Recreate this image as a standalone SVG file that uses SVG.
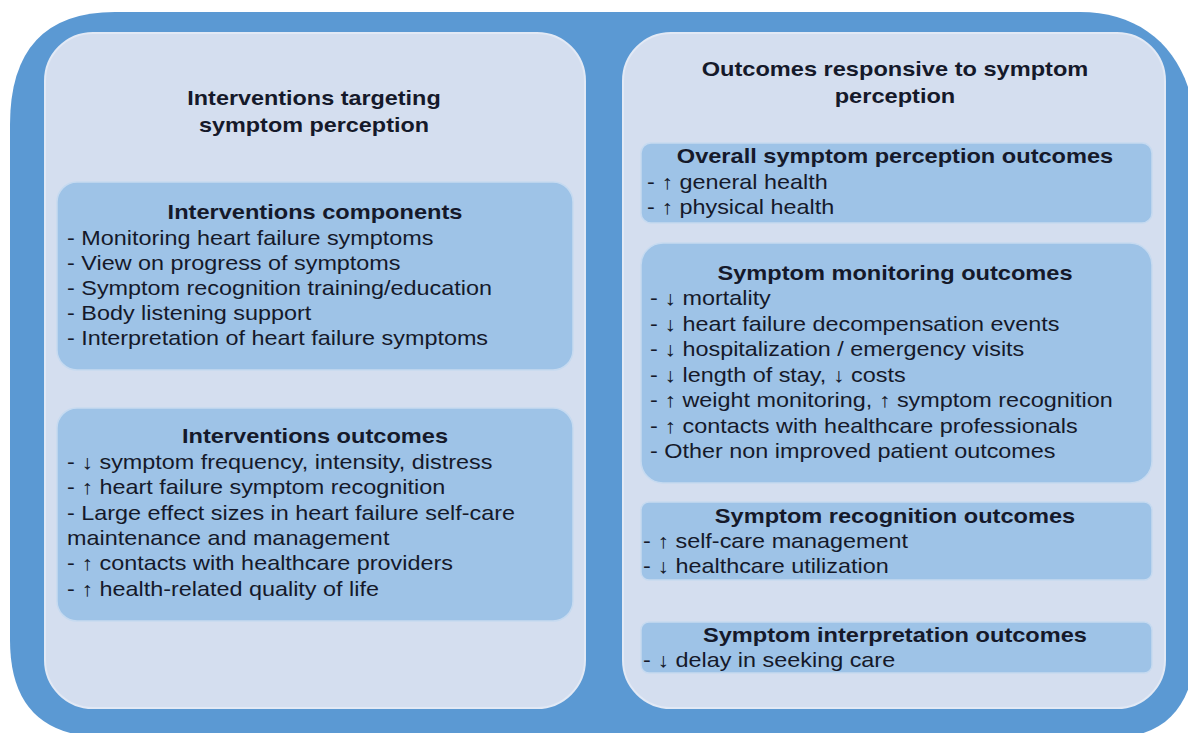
<svg xmlns="http://www.w3.org/2000/svg" width="1188" height="733" viewBox="0 0 1188 733">
<style>
.panel{fill:#d4deef;stroke:#e2e9f5;stroke-width:2}
.box{fill:#9ec3e7;stroke:#c6daf0;stroke-width:1.5}
.h{font-family:"Liberation Sans",Arial,sans-serif;font-weight:bold;font-size:20px;fill:#15192a;text-anchor:middle}
.t{font-family:"Liberation Sans",Arial,sans-serif;font-size:20px;fill:#15192a}
</style>
<rect width="1188" height="733" fill="#ffffff"/>
<path id="outer" d="M10,125 Q10,12 115,12 L1080,12 C1150,12 1196,60 1196,140 L1196,640 C1196,700 1170,737 1115,737 L105,737 Q10,737 10,640 Z" fill="#5b99d3"/>
<g id="left-panel">
<rect class="panel" x="45" y="33" width="540" height="675" rx="48"/>
<text class="h" transform="translate(314,105) scale(1.17,1)">Interventions targeting</text>
<text class="h" transform="translate(314,132) scale(1.17,1)">symptom perception</text>
</g>
<g id="interventions-components">
<rect class="box" x="57" y="182" width="516" height="188" rx="20"/>
<text class="h" transform="translate(315,219) scale(1.18,1)">Interventions components</text>
<text class="t" transform="translate(67,245) scale(1.17,1)">- Monitoring heart failure symptoms</text>
<text class="t" transform="translate(67,270) scale(1.17,1)">- View on progress of symptoms</text>
<text class="t" transform="translate(67,295) scale(1.17,1)">- Symptom recognition training/education</text>
<text class="t" transform="translate(67,320) scale(1.17,1)">- Body listening support</text>
<text class="t" transform="translate(67,345) scale(1.17,1)">- Interpretation of heart failure symptoms</text>
</g>
<g id="interventions-outcomes">
<rect class="box" x="57" y="408" width="516" height="213" rx="20"/>
<text class="h" transform="translate(315,443) scale(1.18,1)">Interventions outcomes</text>
<text class="t" transform="translate(67,469) scale(1.17,1)">- ↓ symptom frequency, intensity, distress</text>
<text class="t" transform="translate(67,494) scale(1.17,1)">- ↑ heart failure symptom recognition</text>
<text class="t" transform="translate(67,520) scale(1.17,1)">- Large effect sizes in heart failure self-care</text>
<text class="t" transform="translate(67,545) scale(1.17,1)">maintenance and management</text>
<text class="t" transform="translate(67,570) scale(1.17,1)">- ↑ contacts with healthcare providers</text>
<text class="t" transform="translate(67,596) scale(1.17,1)">- ↑ health-related quality of life</text>
</g>
<g id="right-panel">
<rect class="panel" x="623" y="33" width="542" height="675" rx="48"/>
<text class="h" transform="translate(895,76) scale(1.18,1)">Outcomes responsive to symptom</text>
<text class="h" transform="translate(895,103) scale(1.18,1)">perception</text>
</g>
<g id="overall-outcomes">
<rect class="box" x="641" y="143" width="511" height="80" rx="10"/>
<text class="h" transform="translate(895,163) scale(1.18,1)">Overall symptom perception outcomes</text>
<text class="t" transform="translate(647,189) scale(1.17,1)">- ↑ general health</text>
<text class="t" transform="translate(647,214) scale(1.17,1)">- ↑ physical health</text>
</g>
<g id="monitoring-outcomes">
<rect class="box" x="641" y="243" width="511" height="240" rx="22"/>
<text class="h" transform="translate(895,280) scale(1.18,1)">Symptom monitoring outcomes</text>
<text class="t" transform="translate(650,305) scale(1.17,1)">- ↓ mortality</text>
<text class="t" transform="translate(650,330.5) scale(1.17,1)">- ↓ heart failure decompensation events</text>
<text class="t" transform="translate(650,356) scale(1.17,1)">- ↓ hospitalization / emergency visits</text>
<text class="t" transform="translate(650,381.5) scale(1.17,1)">- ↓ length of stay, ↓ costs</text>
<text class="t" transform="translate(650,407) scale(1.17,1)">- ↑ weight monitoring, ↑ symptom recognition</text>
<text class="t" transform="translate(650,432.5) scale(1.17,1)">- ↑ contacts with healthcare professionals</text>
<text class="t" transform="translate(650,458) scale(1.17,1)">- Other non improved patient outcomes</text>
</g>
<g id="recognition-outcomes">
<rect class="box" x="641" y="502" width="511" height="78" rx="8"/>
<text class="h" transform="translate(895,523) scale(1.18,1)">Symptom recognition outcomes</text>
<text class="t" transform="translate(643,548) scale(1.17,1)">- ↑ self-care management</text>
<text class="t" transform="translate(643,573) scale(1.17,1)">- ↓ healthcare utilization</text>
</g>
<g id="interpretation-outcomes">
<rect class="box" x="641" y="622" width="511" height="51" rx="8"/>
<text class="h" transform="translate(895,642) scale(1.18,1)">Symptom interpretation outcomes</text>
<text class="t" transform="translate(643,667) scale(1.17,1)">- ↓ delay in seeking care</text>
</g>
<g id="connectors"></g>
</svg>
